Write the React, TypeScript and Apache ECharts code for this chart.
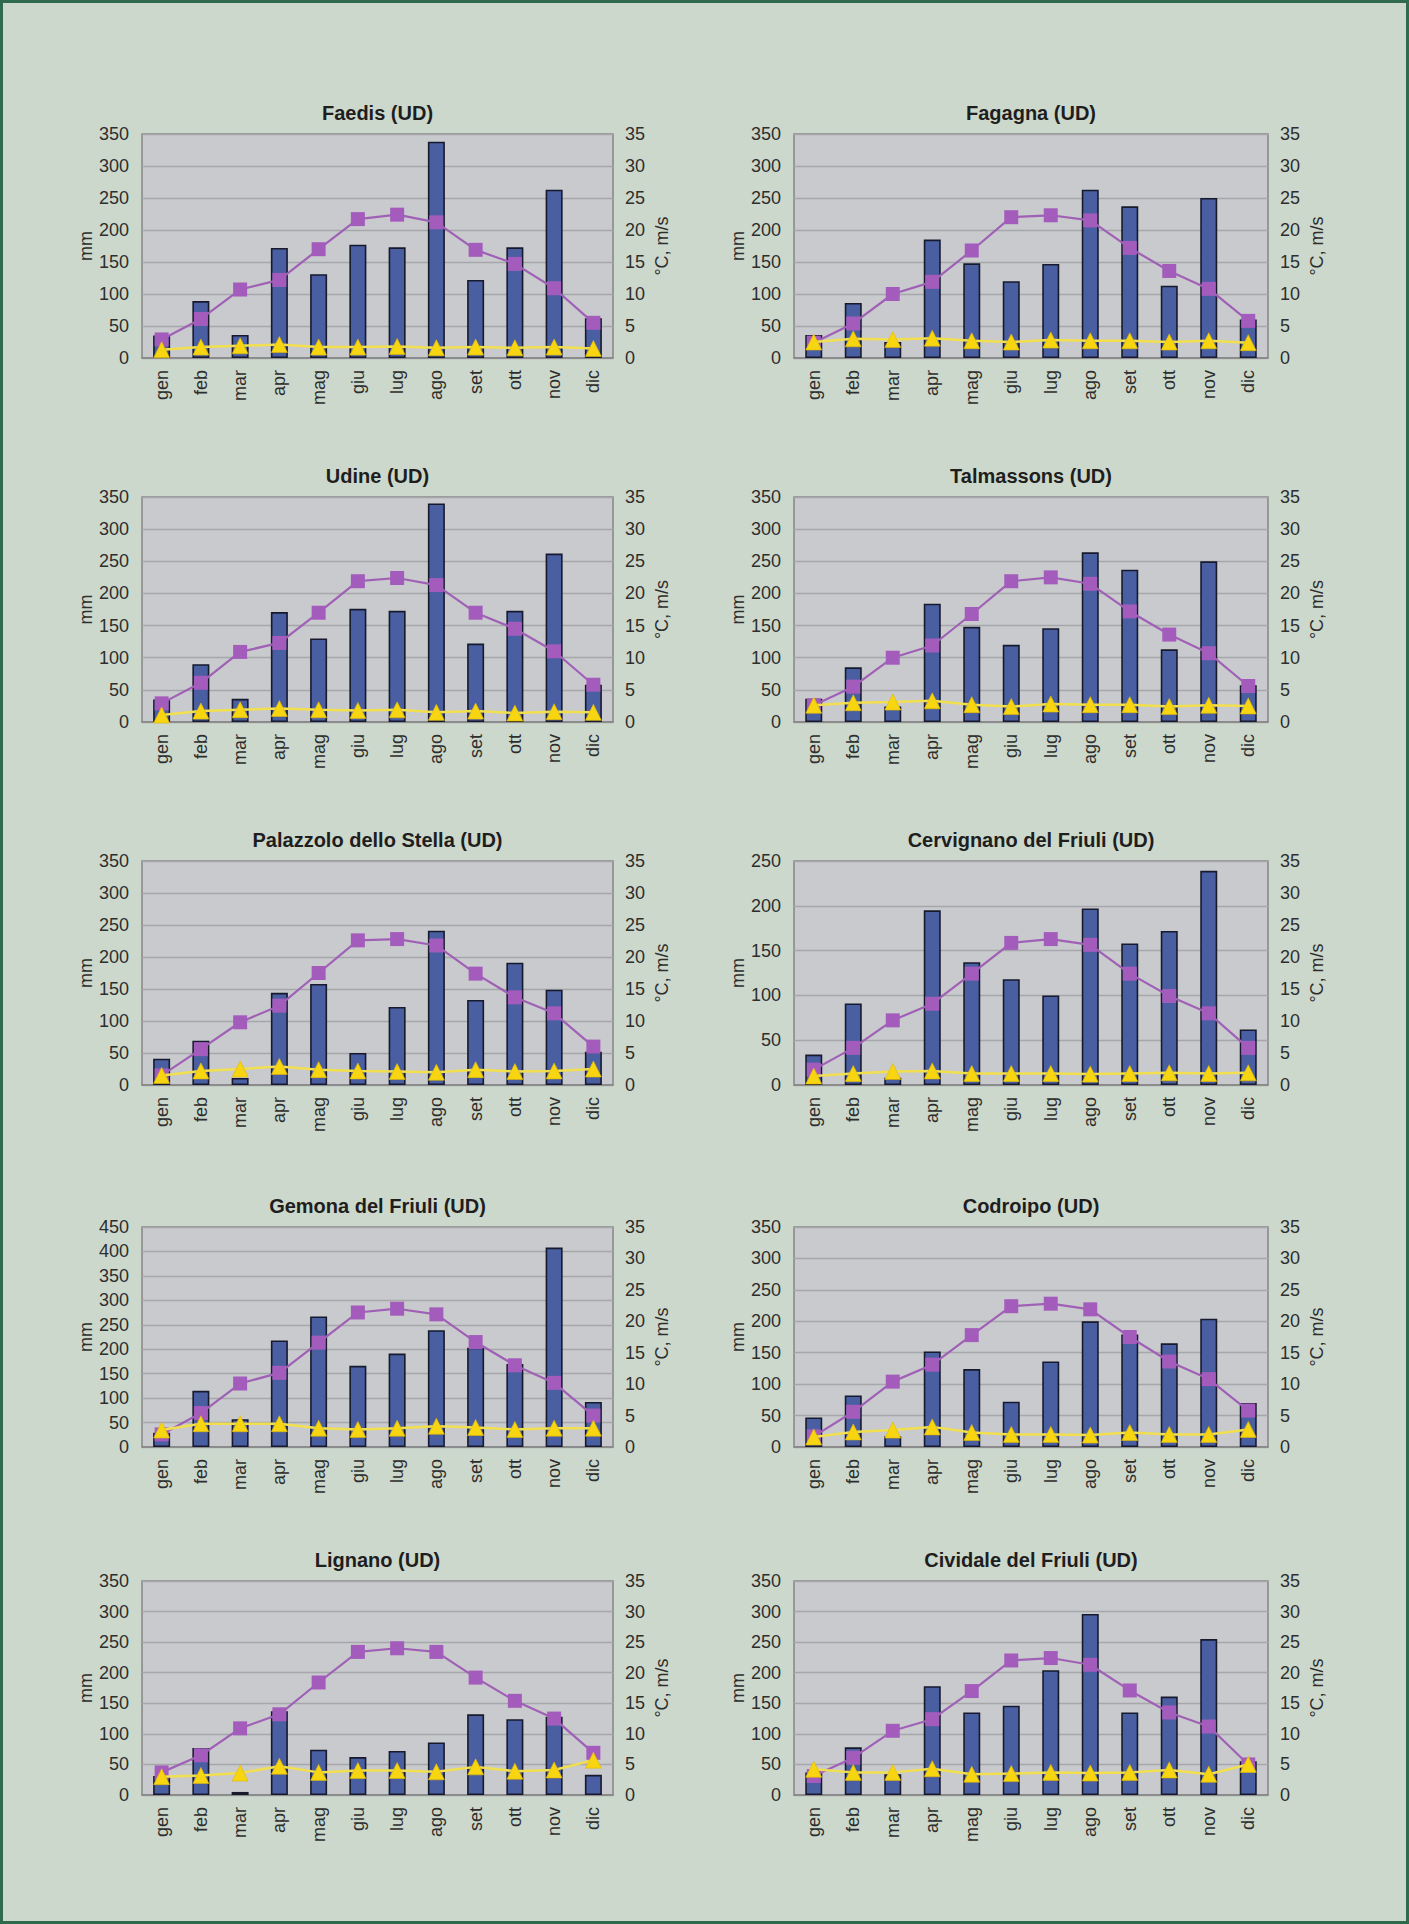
import React, { useEffect, useRef } from 'react';
import * as echarts from 'echarts';

// Month labels on every category axis
const MONTHS = ['gen', 'feb', 'mar', 'apr', 'mag', 'giu', 'lug', 'ago', 'set', 'ott', 'nov', 'dic'];

// Precipitation (mm), mean temperature (°C) and wind speed (m/s) per station
const faedisRain = [35, 89, 36, 172, 131, 177, 173, 338, 122, 173, 263, 62];
const faedisTemp = [2.9, 6.1, 10.7, 12.2, 17.0, 21.7, 22.4, 21.2, 16.9, 14.7, 10.9, 5.5];
const faedisWind = [1.3, 1.7, 1.9, 2.1, 1.7, 1.7, 1.8, 1.6, 1.7, 1.6, 1.7, 1.5];

const fagagnaRain = [36, 86, 25, 185, 148, 120, 147, 263, 237, 113, 250, 60];
const fagagnaTemp = [2.4, 5.4, 10.0, 11.9, 16.8, 22.0, 22.3, 21.5, 17.2, 13.6, 10.8, 5.8];
const fagagnaWind = [2.5, 3.0, 2.9, 3.1, 2.7, 2.5, 2.8, 2.7, 2.7, 2.5, 2.7, 2.4];

const udineRain = [35, 90, 36, 171, 130, 176, 173, 340, 122, 173, 262, 58];
const udineTemp = [2.9, 6.1, 10.9, 12.3, 17.0, 21.9, 22.4, 21.3, 17.0, 14.5, 11.0, 5.8];
const udineWind = [1.1, 1.7, 1.9, 2.1, 1.9, 1.8, 1.9, 1.5, 1.7, 1.4, 1.6, 1.5];

const talmassonsRain = [36, 85, 24, 184, 148, 120, 146, 264, 237, 113, 250, 57];
const talmassonsTemp = [2.6, 5.5, 10.0, 11.9, 16.8, 21.9, 22.5, 21.5, 17.2, 13.6, 10.7, 5.6];
const talmassonsWind = [2.6, 3.0, 3.1, 3.3, 2.7, 2.4, 2.8, 2.7, 2.7, 2.4, 2.6, 2.5];

const palazzoloRain = [41, 69, 11, 144, 158, 50, 122, 241, 133, 191, 149, 52];
const palazzoloTemp = [1.5, 5.6, 9.8, 12.4, 17.5, 22.6, 22.8, 21.8, 17.4, 13.7, 11.2, 6.0];
const palazzoloWind = [1.5, 2.2, 2.5, 2.9, 2.4, 2.2, 2.1, 2.0, 2.4, 2.1, 2.2, 2.5];

const cervignanoRain = [34, 91, 8, 195, 137, 118, 100, 197, 158, 172, 239, 62];
const cervignanoTemp = [2.4, 5.8, 10.1, 12.7, 17.4, 22.2, 22.8, 21.9, 17.4, 13.9, 11.2, 5.8];
const cervignanoWind = [1.4, 1.8, 2.1, 2.2, 1.8, 1.8, 1.8, 1.7, 1.8, 1.9, 1.8, 1.9];

const gemonaRain = [29, 115, 57, 218, 267, 166, 191, 239, 203, 170, 408, 92];
const gemonaTemp = [2.0, 5.4, 10.1, 11.8, 16.6, 21.4, 22.0, 21.1, 16.7, 13.0, 10.2, 5.0];
const gemonaWind = [2.7, 3.7, 3.7, 3.7, 3.0, 2.8, 3.0, 3.3, 3.1, 2.8, 3.0, 3.0];

const codroipoRain = [47, 82, 17, 152, 124, 72, 136, 200, 179, 165, 204, 70];
const codroipoTemp = [1.7, 5.6, 10.4, 13.1, 17.8, 22.4, 22.8, 21.9, 17.5, 13.6, 10.8, 5.8];
const codroipoWind = [1.6, 2.4, 2.7, 3.2, 2.3, 2.0, 2.0, 1.9, 2.3, 2.0, 2.0, 2.8];

const lignanoRain = [31, 77, 5, 137, 74, 62, 72, 86, 132, 124, 128, 33];
const lignanoTemp = [3.7, 6.5, 10.9, 13.2, 18.4, 23.4, 24.0, 23.4, 19.2, 15.4, 12.5, 6.9];
const lignanoWind = [3.0, 3.2, 3.6, 4.7, 3.7, 4.0, 4.0, 3.8, 4.6, 3.9, 4.1, 5.7];

const cividaleRain = [37, 78, 34, 178, 135, 146, 204, 296, 135, 161, 255, 55];
const cividaleTemp = [3.1, 6.1, 10.5, 12.4, 17.0, 22.0, 22.4, 21.3, 17.1, 13.5, 11.2, 5.0];
const cividaleWind = [4.2, 3.7, 3.7, 4.3, 3.4, 3.5, 3.7, 3.6, 3.7, 4.1, 3.4, 5.0];

// Station titles and precipitation axis maxima, in reading order
const STATION_NAMES = [
  'Faedis (UD)', 'Fagagna (UD)',
  'Udine (UD)', 'Talmassons (UD)',
  'Palazzolo dello Stella (UD)', 'Cervignano del Friuli (UD)',
  'Gemona del Friuli (UD)', 'Codroipo (UD)',
  'Lignano (UD)', 'Cividale del Friuli (UD)',
];
const RAIN_MAX = [350, 350, 350, 350, 350, 250, 450, 350, 350, 350];
const TEMP_MAX = 35;

const RAIN = [faedisRain, fagagnaRain, udineRain, talmassonsRain, palazzoloRain, cervignanoRain, gemonaRain, codroipoRain, lignanoRain, cividaleRain];
const TEMP = [faedisTemp, fagagnaTemp, udineTemp, talmassonsTemp, palazzoloTemp, cervignanoTemp, gemonaTemp, codroipoTemp, lignanoTemp, cividaleTemp];
const WIND = [faedisWind, fagagnaWind, udineWind, talmassonsWind, palazzoloWind, cervignanoWind, gemonaWind, codroipoWind, lignanoWind, cividaleWind];

// Page layout (pixels)
const PAGE_W = 1409;
const PAGE_H = 1924;
const COL_LEFT = [142, 794];
const COL_WIDTH = [471, 474];
const ROW_TOP = [134, 497, 861, 1227, 1581];
const ROW_HEIGHT = [224, 225, 224, 220, 214];

const FONT = '"Liberation Sans", Arial, sans-serif';
const TEXT_COLOR = '#2e2e2e';
const LABEL_SIZE = 18;

function buildOption() {
  const grid: any[] = [];
  const xAxis: any[] = [];
  const yAxis: any[] = [];
  const series: any[] = [];
  const title: any[] = [];

  STATION_NAMES.forEach((name, i) => {
    const col = i % 2;
    const row = Math.floor(i / 2);
    const left = COL_LEFT[col];
    const width = COL_WIDTH[col];
    const top = ROW_TOP[row];
    const height = ROW_HEIGHT[row];

    grid.push({
      left, top, width, height,
      show: true,
      backgroundColor: '#c8cacd',
      borderColor: '#858585',
      borderWidth: 1.5,
      containLabel: false,
    });

    title.push({
      text: name,
      left: left + width / 2,
      top: top - 31,
      textAlign: 'center',
      padding: 0,
      textStyle: { fontFamily: FONT, fontSize: 20, fontWeight: 'bold', color: '#1e1e1e' },
    });

    xAxis.push({
      type: 'category',
      gridIndex: i,
      data: MONTHS,
      axisLine: { show: true, lineStyle: { color: '#858585', width: 1.5 } },
      axisTick: { show: false },
      axisLabel: { rotate: 90, fontFamily: FONT, fontSize: LABEL_SIZE, color: TEXT_COLOR, margin: 12 },
      splitLine: { show: false },
    });

    yAxis.push({
      type: 'value',
      gridIndex: i,
      position: 'left',
      min: 0,
      max: RAIN_MAX[i],
      interval: 50,
      name: 'mm',
      nameLocation: 'middle',
      nameRotate: 90,
      nameGap: 46,
      nameTextStyle: { fontFamily: FONT, fontSize: LABEL_SIZE, color: TEXT_COLOR },
      axisLine: { show: false },
      axisTick: { show: false },
      axisLabel: { fontFamily: FONT, fontSize: LABEL_SIZE, color: TEXT_COLOR, margin: 13 },
      splitLine: { show: true, lineStyle: { color: '#a5a7aa', width: 1.3 } },
    });
    yAxis.push({
      type: 'value',
      gridIndex: i,
      position: 'right',
      min: 0,
      max: TEMP_MAX,
      interval: 5,
      name: '°C, m/s',
      nameLocation: 'middle',
      nameRotate: 90,
      nameGap: 40,
      nameTextStyle: { fontFamily: FONT, fontSize: LABEL_SIZE, color: TEXT_COLOR },
      axisLine: { show: false },
      axisTick: { show: false },
      axisLabel: { fontFamily: FONT, fontSize: LABEL_SIZE, color: TEXT_COLOR, margin: 12 },
      splitLine: { show: false },
    });

    series.push({
      type: 'bar',
      name: 'mm',
      xAxisIndex: i,
      yAxisIndex: 2 * i,
      data: RAIN[i],
      barWidth: 17,
      itemStyle: { color: '#4a5ea2', borderColor: '#161a2c', borderWidth: 1.6 },
      z: 2,
    });
    series.push({
      type: 'line',
      name: '°C',
      xAxisIndex: i,
      yAxisIndex: 2 * i + 1,
      data: TEMP[i],
      symbol: 'rect',
      symbolSize: 14,
      lineStyle: { color: '#a060b6', width: 2.2 },
      itemStyle: { color: '#a45cbc' },
      z: 3,
    });
    series.push({
      type: 'line',
      name: 'm/s',
      xAxisIndex: i,
      yAxisIndex: 2 * i + 1,
      data: WIND[i],
      symbol: 'triangle',
      symbolSize: 16,
      lineStyle: { color: '#f1df50', width: 2.5 },
      itemStyle: { color: '#f7d511', borderColor: '#e2b900', borderWidth: 0.6 },
      z: 4,
    });
  });

  return {
    animation: false,
    backgroundColor: '#cdd8cc',
    title,
    grid,
    xAxis,
    yAxis,
    series,
    graphic: [
      {
        type: 'rect',
        shape: { x: 1.5, y: 1.5, width: PAGE_W - 3, height: PAGE_H - 3 },
        style: { fill: 'none', stroke: '#2e6a4b', lineWidth: 3 },
        silent: true,
        z: 100,
      },
    ],
  };
}

export default function App() {
  const ref = useRef<HTMLDivElement>(null);
  useEffect(() => {
    document.body.style.margin = '0';
    const chart = echarts.init(ref.current!, undefined, { renderer: 'svg', width: PAGE_W, height: PAGE_H });
    chart.setOption(buildOption());
    return () => chart.dispose();
  }, []);
  return (
    <div
      ref={ref}
      style={{ width: PAGE_W, height: PAGE_H, position: 'absolute', left: 0, top: 0 }}
    />
  );
}
